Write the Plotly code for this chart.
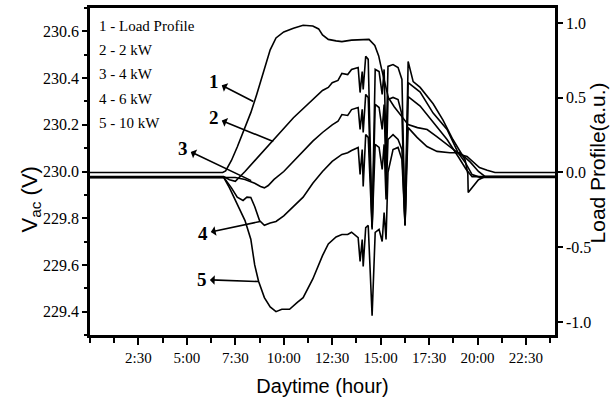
import plotly.graph_objects as go

# ---------------- data ----------------
cloud_h = [13.84, 13.94, 14.05, 14.10, 14.23, 14.36, 14.56, 14.72, 14.92, 15.08,
           15.18, 15.28, 15.38, 15.64, 15.90, 16.10, 16.26, 16.42]

# 1 - Load profile (right axis, a.u.)
load_h = [0.0, 6.85, 7.0, 7.3, 7.6, 8.0, 8.3, 8.6, 9.0, 9.3, 9.6, 10.0, 10.5, 11.0, 11.5,
          11.8, 12.0, 12.3, 12.7, 13.0, 13.5, 14.0, 14.4, 14.7, 14.9, 15.0, 15.2, 15.4,
          15.7, 16.0, 16.2, 16.42, 16.9, 17.4, 17.9, 18.6, 19.1, 19.46, 20.1, 20.5, 20.9, 24.0]
load_val = [0.0, 0.0, 0.01, 0.08, 0.17, 0.30, 0.40, 0.52, 0.70, 0.82, 0.90, 0.94, 0.965, 0.985, 0.98,
            0.96, 0.92, 0.89, 0.88, 0.875, 0.885, 0.89, 0.89, 0.85, 0.78, 0.72, 0.60, 0.50,
            0.44, 0.39, 0.35, 0.32, 0.30, 0.287, 0.24, 0.173, 0.12, 0.107, 0.033, 0.015, 0.0, 0.0]

# 2 - 2 kW
v2_h = [0.0, 6.9, 7.2, 7.5, 8.0, 8.5, 9.0, 9.5, 10.0, 10.5, 11.0, 11.5, 12.0, 12.3, 12.5, 12.8, 13.0,
        13.3, 13.5] + cloud_h + [16.68, 17.04, 17.71, 18.22, 18.73, 19.36, 19.50, 19.52, 20.05, 20.4, 24.0]
v2_val = [229.978, 229.978, 229.965, 229.958, 230.0, 230.047, 230.094, 230.137, 230.184, 230.23, 230.27,
          230.31, 230.347, 230.36, 230.38, 230.39, 230.42, 230.415, 230.437] + \
         [230.445, 230.338, 230.428, 230.351, 230.493, 230.48, 229.764, 230.437, 230.428, 230.33,
          230.437, 230.094, 230.45, 230.458, 230.445, 230.394, 229.773, 230.471] + \
         [230.385, 230.36, 230.29, 230.22, 230.137, 230.05, 229.99, 229.91, 229.965, 229.978, 229.978]

# 3 - 4 kW
v3_h = [0.0, 6.9, 7.5, 8.0, 8.5, 8.8, 9.0, 9.2, 9.5, 10.0, 10.5, 11.0, 11.5, 12.0, 12.5, 12.8, 13.0,
        13.3, 13.5] + cloud_h + [17.04, 17.71, 18.43, 19.0, 19.36, 19.72, 20.13, 24.0]
v3_val = [229.975, 229.975, 229.974, 229.966, 229.95, 229.936, 229.93, 229.94, 229.966, 230.0, 230.043,
          230.086, 230.13, 230.167, 230.20, 230.215, 230.244, 230.24, 230.265] + \
         [230.274, 230.18, 230.266, 230.167, 230.33, 230.317, 229.76, 230.287, 230.274, 230.18,
          230.287, 229.966, 230.308, 230.317, 230.308, 230.244, 229.769, 230.381] + \
         [230.34, 230.25, 230.18, 230.08, 230.04, 229.987, 229.975, 229.975]

# 4 - 6 kW
v4_h = [0.0, 6.9, 7.3, 7.6, 7.9, 8.1, 8.3, 8.5, 8.75, 9.0, 9.3, 9.6, 10.0, 10.5, 11.0, 11.5, 12.0,
        12.5, 13.0, 13.3, 13.5] + cloud_h + [17.04, 17.71, 18.43, 19.0, 19.41, 19.72, 24.0]
v4_val = [229.975, 229.975, 229.93, 229.89, 229.876, 229.89, 229.889, 229.85, 229.79, 229.77, 229.78,
          229.786, 229.81, 229.85, 229.89, 229.95, 230.0, 230.043, 230.073, 230.08, 230.09] + \
         [230.103, 229.987, 230.094, 229.936, 230.158, 230.146, 229.752, 230.116, 230.103, 230.009,
          230.116, 229.88, 230.137, 230.158, 230.137, 230.094, 229.769, 230.321] + \
         [230.28, 230.21, 230.137, 230.064, 230.01, 229.978, 229.978]

# 5 - 10 kW
v5_h = [0.0, 6.9, 7.2, 7.6, 8.0, 8.3, 8.5, 8.7, 9.0, 9.3, 9.6, 9.9, 10.3, 10.7, 11.0, 11.5, 12.0,
        12.3, 12.7, 13.0, 13.3, 13.5] + cloud_h + [16.88, 17.39, 17.91, 18.58, 19.1, 19.63, 20.05, 20.4, 24.0]
v5_val = [229.975, 229.975, 229.93, 229.86, 229.79, 229.71, 229.60, 229.53, 229.46, 229.42, 229.40,
          229.41, 229.41, 229.44, 229.46, 229.54, 229.64, 229.69, 229.72, 229.73, 229.73, 229.74] + \
         [229.717, 229.615, 229.709, 229.593, 229.76, 229.769, 229.383, 229.739, 229.752, 229.70,
          229.824, 229.709, 229.996, 230.094, 230.103, 230.051, 229.773, 230.188] + \
         [230.146, 230.107, 230.086, 230.08, 230.08, 230.04, 230.0, 229.978, 229.978]

x_tick_vals = [2.5, 5, 7.5, 10, 12.5, 15, 17.5, 20, 22.5]
x_tick_text = ["2:30", "5:00", "7:30", "10:00", "12:30", "15:00", "17:30", "20:00", "22:30"]
vac_ticks = [229.4, 229.6, 229.8, 230.0, 230.2, 230.4, 230.6]
load_tick_vals = [-1.0, -0.5, 0.0, 0.5, 1.0]
load_tick_text = ["-1.0", "-0.5", "0.0", "0.5", "1.0"]

legend_lines = ["1 - Load Profile", "2 - 2 kW", "3 - 4 kW", "4 - 6 kW", "5 - 10 kW"]

# curve label annotations: (label, text x, text y, point on curve x, y)
curve_labels = [
    ("1", 6.42, 230.385, 8.43, 230.30),
    ("2", 6.42, 230.231, 9.46, 230.128),
    ("3", 4.82, 230.099, 8.32, 229.961),
    ("4", 5.85, 229.734, 8.78, 229.786),
    ("5", 5.80, 229.537, 8.69, 229.529),
]

# ---------------- figure ----------------
SERIF = "Liberation Serif"
SANS = "Liberation Sans"
LW = 1.6

fig = go.Figure()
for h, v in [(v2_h, v2_val), (v3_h, v3_val), (v4_h, v4_val), (v5_h, v5_val)]:
    fig.add_trace(go.Scatter(x=h, y=v, mode="lines", line=dict(color="black", width=LW),
                             showlegend=False, hoverinfo="skip"))
fig.add_trace(go.Scatter(x=load_h, y=load_val, mode="lines", yaxis="y2",
                         line=dict(color="black", width=LW), showlegend=False, hoverinfo="skip"))

annotations = []
for i, txt in enumerate(legend_lines):
    annotations.append(dict(text=txt, xref="paper", yref="paper", x=0.014,
                            y=[0.945, 0.872, 0.798, 0.722, 0.648][i],
                            xanchor="left", yanchor="middle", showarrow=False,
                            font=dict(family=SERIF, size=15, color="black")))
for lab, tx, ty, px, py in curve_labels:
    annotations.append(dict(text=lab, x=px, y=py, xref="x", yref="y", ax=tx, ay=ty,
                            axref="x", ayref="y", showarrow=True, arrowside="start",
                            arrowhead=2, arrowsize=1.2, arrowwidth=1.6, arrowcolor="black",
                            standoff=0, startstandoff=1,
                            font=dict(family=SERIF, size=19, color="black", weight="bold")))
annotations.append(dict(text="V<sub>ac</sub> (V)", xref="paper", yref="paper", x=-0.128, y=0.416,
                        textangle=-90, showarrow=False, xanchor="center", yanchor="middle",
                        font=dict(family=SANS, size=22, color="black")))
annotations.append(dict(text="Load Profile(a.u.)", xref="paper", yref="paper", x=1.0935, y=0.526,
                        textangle=-90, showarrow=False, xanchor="center", yanchor="middle",
                        font=dict(family=SANS, size=21, color="black")))

axis_common = dict(showgrid=False, zeroline=False, showline=True, linecolor="black",
                   linewidth=2.5, ticks="outside", tickcolor="black", tickwidth=2, automargin=False)

fig.update_layout(
    width=612, height=409,
    margin=dict(l=90, r=57, t=8, b=74),
    paper_bgcolor="white", plot_bgcolor="white",
    xaxis=dict(**axis_common, range=[0, 24], mirror=True, tickmode="array",
               tickvals=x_tick_vals, ticktext=x_tick_text, ticklen=7,
               minor=dict(tick0=0, dtick=1.25, ticks="outside", ticklen=5, tickwidth=2, tickcolor="black"),
               tickfont=dict(family=SERIF, size=15, color="black"),
               title=dict(text="Daytime (hour)", font=dict(family=SANS, size=20, color="black"), standoff=15)),
    yaxis=dict(**axis_common, range=[229.3, 230.7], tickmode="array", tickvals=vac_ticks,
               ticktext=[f"{t:.1f}" for t in vac_ticks], ticklen=5,
               minor=dict(tick0=229.3, dtick=0.1, ticks="outside", ticklen=3, tickwidth=2, tickcolor="black"),
               tickfont=dict(family=SERIF, size=16, color="black")),
    yaxis2=dict(**axis_common, overlaying="y", side="right", range=[-1.087, 1.1],
                tickmode="array", tickvals=load_tick_vals, ticktext=load_tick_text, ticklen=5,
                tickfont=dict(family=SERIF, size=16, color="black")),
    annotations=annotations,
)

fig.write_html("out.html", config={"displayModeBar": False},
               post_script="document.body.style.margin='0';document.body.style.overflow='hidden';")
